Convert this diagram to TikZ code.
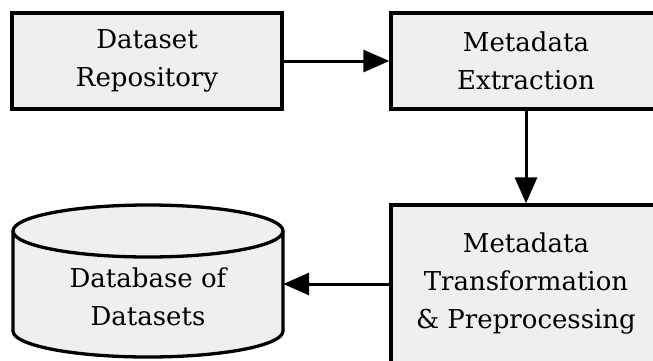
\documentclass[tikz,border=0pt]{standalone}
\usepackage{fontspec}
\setmainfont{DejaVu Serif}
\usetikzlibrary{arrows.meta}
\definecolor{boxfill}{HTML}{EFEFEF}
\tikzset{
  procbox/.style={draw=black, line width=3.3pt, fill=boxfill, minimum width=270pt, align=center,
    font=\fontsize{26}{38}\selectfont, inner sep=0pt},
  lbl/.style={align=center, inner sep=0pt, font=\fontsize{26}{38}\selectfont},
  flow/.style={line width=3pt, -{Triangle[length=26pt,width=22pt]}},
}
\begin{document}
\begin{tikzpicture}[x=1pt,y=-1pt]
\useasboundingbox (0,0) rectangle (653,360);
\clip (0,0) rectangle (653,360);
\fill[white] (0,0) rectangle (653,360);
% boxes
\node[procbox, minimum height=96pt] (repo) at (147,61) {Dataset\\Repository};
\node[procbox, minimum height=96pt] (extr) at (526,61) {Metadata\\Extraction};
\node[procbox, minimum height=158pt] (trans) at (526,284) {Metadata\\Transformation\\\& Preprocessing};
% cylinder
\node[minimum width=270pt, minimum height=152pt, inner sep=0pt] (db) at (148,281) {};
\filldraw[line width=3.3pt, fill=boxfill] (13,231) -- (13,331) arc[start angle=180, end angle=0, x radius=135, y radius=26] -- (283,231) arc[start angle=0, end angle=-180, x radius=135, y radius=26] -- cycle;
\draw[line width=3.3pt] (13,231) arc[start angle=180, end angle=0, x radius=135, y radius=26];
\node[lbl] (dblabel) at (148,297) {Database of\\Datasets};
% connectors
\draw[flow] (repo.east) -- (extr.west);
\draw[flow] (extr.south) -- (trans.north);
\draw[flow] (trans.west) -- (trans.west -| db.east);
\end{tikzpicture}
\end{document}
